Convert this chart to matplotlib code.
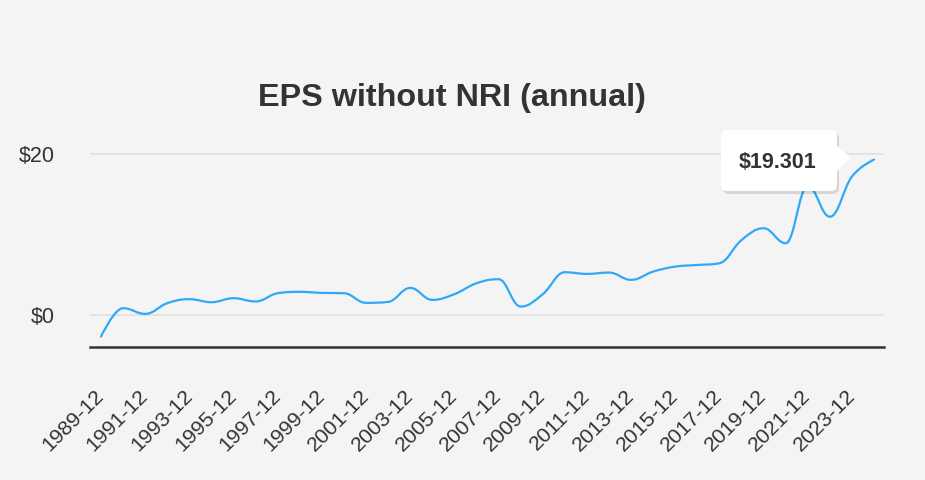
import numpy as np
import matplotlib
matplotlib.use("Agg")
import matplotlib.pyplot as plt
from matplotlib.path import Path
from matplotlib.patches import PathPatch, FancyBboxPatch, Polygon

# data
years = list(range(1989, 2025))
eps = [-2.7, 0.83, 0.12, 1.45, 1.95, 1.57, 2.07, 1.66, 2.69, 2.86,
       2.73, 2.69, 1.49, 1.61, 3.35, 1.86, 2.57, 3.93, 4.43, 1.03,
       2.57, 5.30, 5.09, 5.26, 4.35, 5.38, 6.00, 6.20, 6.42, 9.30,
       10.77, 8.90, 16.0, 12.2, 17.2, 19.301]
tick_labels = [f"{y}-12" for y in years[::2]]

plt.rcParams['font.family'] = ['Liberation Sans', 'DejaVu Sans']
BG = '#f4f4f4'
TXT = '#333333'


def spline_path(xs, ys, smoothing=1.5):
    # highcharts-style spline, built as cubic bezier segments
    denom = smoothing + 1
    n = len(xs)
    lc = [None] * n
    rc = [None] * n
    for i in range(1, n - 1):
        px, py = xs[i], ys[i]
        lx, ly = xs[i - 1], ys[i - 1]
        nx, ny = xs[i + 1], ys[i + 1]
        lcx = (smoothing * px + lx) / denom
        lcy = (smoothing * py + ly) / denom
        rcx = (smoothing * px + nx) / denom
        rcy = (smoothing * py + ny) / denom
        corr = (rcy - lcy) * (rcx - px) / (rcx - lcx) + py - rcy
        lcy += corr
        rcy += corr
        if lcy > ly and lcy > py:
            lcy = max(ly, py); rcy = 2 * py - lcy
        elif lcy < ly and lcy < py:
            lcy = min(ly, py); rcy = 2 * py - lcy
        if rcy > ny and rcy > py:
            rcy = max(ny, py); lcy = 2 * py - rcy
        elif rcy < ny and rcy < py:
            rcy = min(ny, py); lcy = 2 * py - rcy
        lc[i] = (lcx, lcy)
        rc[i] = (rcx, rcy)
    verts = [(xs[0], ys[0])]
    codes = [Path.MOVETO]
    for i in range(1, n):
        c1 = rc[i - 1] if rc[i - 1] else (xs[i - 1], ys[i - 1])
        c2 = lc[i] if lc[i] else (xs[i], ys[i])
        verts += [c1, c2, (xs[i], ys[i])]
        codes += [Path.CURVE4] * 3
    return Path(verts, codes)


fig = plt.figure(figsize=(9.25, 4.8), dpi=100, facecolor=BG)
ax = fig.add_axes([90 / 925, 133 / 480, 794 / 925, 197 / 480])
ax.set_facecolor(BG)

x = np.arange(len(years))
ax.add_patch(PathPatch(spline_path(list(x), eps), fill=False,
                       edgecolor='#2fa9f7', lw=1.6, capstyle='round', zorder=3))

ax.set_xlim(-0.5, len(years) - 1 + 0.45)
ax.set_ylim(-4, 20.5)

ax.set_yticks([0, 20])
ax.set_yticklabels(['$0', '$20'])
ax.grid(axis='y', color='#e3e3e3', lw=1.4)
ax.set_axisbelow(True)

ax.set_xticks(x[::2])
ax.set_xticklabels(tick_labels, rotation=45, ha='right', va='center',
                   rotation_mode='anchor')

for s in ['top', 'right', 'left']:
    ax.spines[s].set_visible(False)
ax.spines['bottom'].set_color('#333333')
ax.spines['bottom'].set_linewidth(1.8)
ax.tick_params(axis='both', length=0, labelcolor=TXT)
ax.tick_params(axis='y', pad=25, labelsize=15.5)
ax.tick_params(axis='x', pad=33, labelsize=15.3)

fig.text(452 / 925, 1 - 98 / 480, 'EPS without NRI (annual)', ha='center', va='center',
         fontsize=23.3, fontweight='bold', color=TXT)

# tooltip on the last point (pixel positions)
H = 480
bx0, bx1, by0, by1 = 721, 837, 130, 191
shadow = FancyBboxPatch((bx0 + 2, H - by1 - 3), bx1 - bx0, by1 - by0,
                        boxstyle='round,pad=0,rounding_size=6', transform=None,
                        facecolor='#000000', alpha=0.12, edgecolor='none', zorder=9)
fig.patches.append(shadow)
box = FancyBboxPatch((bx0, H - by1), bx1 - bx0, by1 - by0,
                     boxstyle='round,pad=0,rounding_size=6', transform=None,
                     facecolor='white', edgecolor='none', zorder=10)
fig.patches.append(box)
tri = Polygon([(bx1 - 1, H - 145), (851, H - 158), (bx1 - 1, H - 172)], closed=True,
              transform=None, facecolor='white', edgecolor='none', zorder=10)
fig.patches.append(tri)
fig.text(778 / 925, 1 - 162 / 480, f"${eps[-1]:.3f}", ha='center', va='center',
         fontsize=15.5, fontweight='bold', color=TXT, zorder=11)

fig.savefig('out.png', dpi=100, facecolor=BG)
